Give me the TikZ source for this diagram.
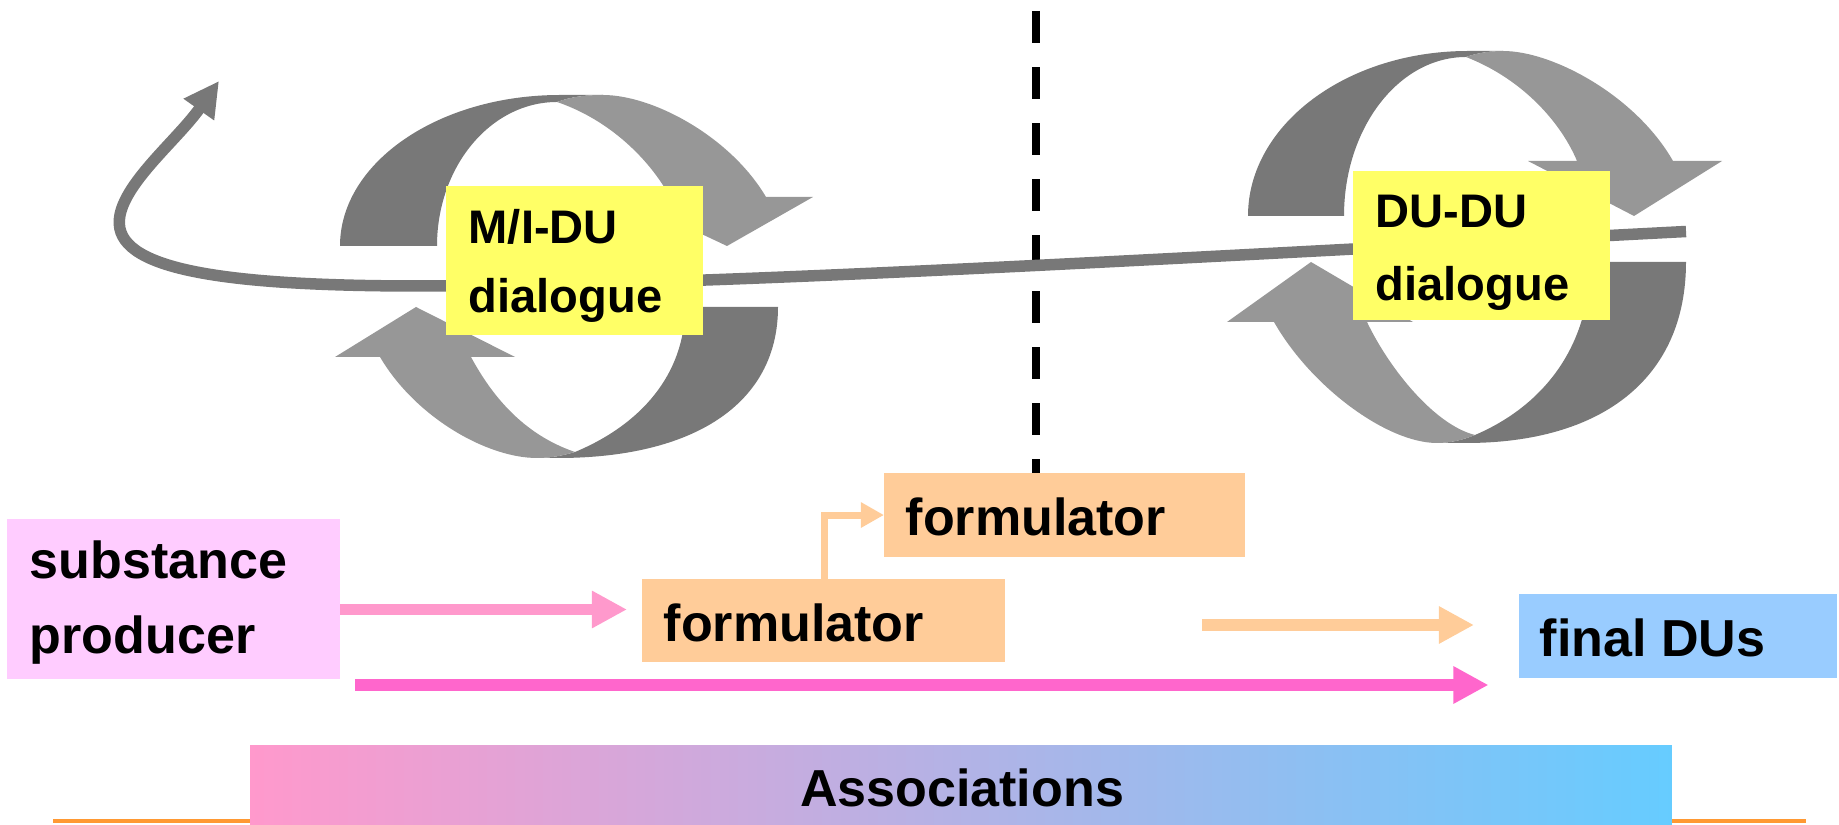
\documentclass[tikz,border=0pt]{standalone}
\usepackage{fontspec}
\setmainfont{Liberation Sans}
\usetikzlibrary{arrows.meta}
\definecolor{gdark}{HTML}{787878}
\definecolor{glight}{HTML}{979797}
\definecolor{yellowbox}{HTML}{FFFF66}
\definecolor{pinkbox}{HTML}{FFCCFF}
\definecolor{peachbox}{HTML}{FFCC99}
\definecolor{bluebox}{HTML}{99CCFF}
\definecolor{pinkarrow}{HTML}{FF99CC}
\definecolor{magarrow}{HTML}{FF66CC}
\definecolor{orangeline}{HTML}{FF9933}
\definecolor{assocL}{HTML}{FF99CC}
\definecolor{assocR}{HTML}{66CCFF}
\tikzset{
  boxnode/.style={inner sep=0pt, outer sep=0pt, anchor=north west, draw=none},
  lbl/.style={font=\fontsize{14.8}{21.6}\selectfont\bfseries, inner sep=0pt, anchor=base west, align=left},
  dlgA/.style={font=\fontsize{13.4}{19.9}\selectfont\bfseries, inner sep=0pt, anchor=base west, align=left},
  dlgB/.style={font=\fontsize{13.4}{20.8}\selectfont\bfseries, inner sep=0pt, anchor=base west, align=left},
  bigtip/.style={-{Triangle[length=0.35cm,width=0.35cm]}},
}
\begin{document}
\begin{tikzpicture}[x=0.01cm,y=-0.01cm]
\useasboundingbox (0,0) rectangle (1839,825);

% orange base line and associations bar
\draw[orangeline, line width=0.04cm] (53,820.7) -- (1806,820.7);
\node[boxnode, minimum width=14.21cm, minimum height=0.79cm, left color=assocL, right color=assocR] (assoc) at (250,746) {};
\node[lbl, anchor=base] (assoc-t) at (962,807) {Associations};

% dashed divider
\node[boxnode, fill=peachbox, minimum width=3.61cm, minimum height=0.84cm] (f2) at (884,473) {};
\draw[black, line width=0.08cm, dash pattern=on 0.32cm off 0.24cm] (1036,11) -- (1036,0 |- f2.north);

% left cycle
\fill[gdark] (340,246) .. controls (340,162.6) and (438.5,95) .. (560,95) -- (603,95)
  .. controls (585,95) and (570,97) .. (557,102)
  .. controls (490.7,102) and (437,166.5) .. (437,246) -- cycle;
\fill[glight] (557,102) .. controls (570,97) and (585,95) .. (603,95)
  .. controls (653,95) and (730.5,136.7) .. (766,197) -- (813,197) -- (727,246) -- (623,197) -- (670,197)
  .. controls (650,160) and (610,120) .. (557,102) -- cycle;
\fill[gdark] (778,307) .. controls (778,405) and (692,458) .. (558,458) -- (537,458)
  .. controls (552,458) and (565,455) .. (575,452)
  .. controls (640,425) and (685,375) .. (685,307) -- cycle;
\fill[glight] (575,452) .. controls (565,455) and (552,458) .. (537,458)
  .. controls (487,458) and (415.5,417.3) .. (380,357) -- (335,357) -- (416,307) -- (515,357) -- (471,357)
  .. controls (491,394) and (522,434) .. (575,452) -- cycle;

% right cycle
\fill[gdark] (1248,216) .. controls (1248,124.9) and (1346.5,51) .. (1468,51) -- (1503,51)
  .. controls (1490,51) and (1477,53) .. (1466,57)
  .. controls (1398.6,57) and (1344,128.2) .. (1344,216) -- cycle;
\fill[glight] (1466,57) .. controls (1477,53) and (1490,51) .. (1503,51)
  .. controls (1553,51) and (1636,96) .. (1673,161) -- (1722,161) -- (1634,216) -- (1528,161) -- (1577,161)
  .. controls (1562,125) and (1525,80) .. (1466,57) -- cycle;
\fill[gdark] (1686,262) .. controls (1686,380) and (1600,443) .. (1466,443) -- (1437,443)
  .. controls (1450,443) and (1463,440) .. (1475,435)
  .. controls (1545,405) and (1590,345) .. (1590,262) -- cycle;
\fill[glight] (1475,435) .. controls (1463,440) and (1450,443) .. (1437,443)
  .. controls (1387,443) and (1311,387) .. (1274,322) -- (1227,322) -- (1311,262) -- (1413,322) -- (1367,322)
  .. controls (1390,370) and (1435,425) .. (1475,435) -- cycle;

% long grey arrow
\coordinate (g1) at (1686,231.5);
\coordinate (g2) at (219,81);
\draw[gdark, line width=0.115cm, bigtip] (g1) .. controls (1100,262) and (700,286) .. (420,286)
  .. controls (200,286) and (110,265) .. (120,215)
  .. controls (127,180) and (178,139) .. (g2);

% dialogue boxes (text anchored at baseline of the last line)
\node[boxnode, fill=yellowbox, minimum width=2.57cm, minimum height=1.49cm] (midu) at (446,186) {};
\node[dlgA] (midu-t) at (468,313) {M/I-DU\\dialogue};
\node[boxnode, fill=yellowbox, minimum width=2.57cm, minimum height=1.49cm] (dudu) at (1353,171) {};
\node[dlgB] (dudu-t) at (1375,301) {DU-DU\\dialogue};

% process boxes
\node[boxnode, fill=pinkbox, minimum width=3.33cm, minimum height=1.60cm] (sp) at (7,519) {};
\node[lbl] (sp-t) at (29,654) {substance\\producer};
\node[boxnode, fill=peachbox, minimum width=3.63cm, minimum height=0.83cm] (f1) at (642,579) {};
\node[lbl] (f1-t) at (663,642) {formulator};
\node[lbl] (f2-t) at (905,536) {formulator};
\node[boxnode, fill=bluebox, minimum width=3.18cm, minimum height=0.84cm] (fd) at (1519,594) {};
\node[lbl] (fd-t) at (1539,657) {final DUs};

% arrows
\draw[pinkarrow, line width=0.11cm, bigtip, shorten >=0.15cm] (sp.east |- 0,609.5) -- (f1.west |- 0,609.5);
\draw[peachbox, line width=0.07cm, -{Triangle[length=0.23cm,width=0.24cm]}] (824,0 |- f1.north) |- (f2.west);
\coordinate (p1) at (1202,625);
\coordinate (p2) at (1474,625);
\draw[peachbox, line width=0.12cm, bigtip] (p1) -- (p2);
\coordinate (m1) at (355,685);
\coordinate (m2) at (1488.5,685);
\draw[magarrow, line width=0.12cm, bigtip] (m1) -- (m2);
\end{tikzpicture}
\end{document}
